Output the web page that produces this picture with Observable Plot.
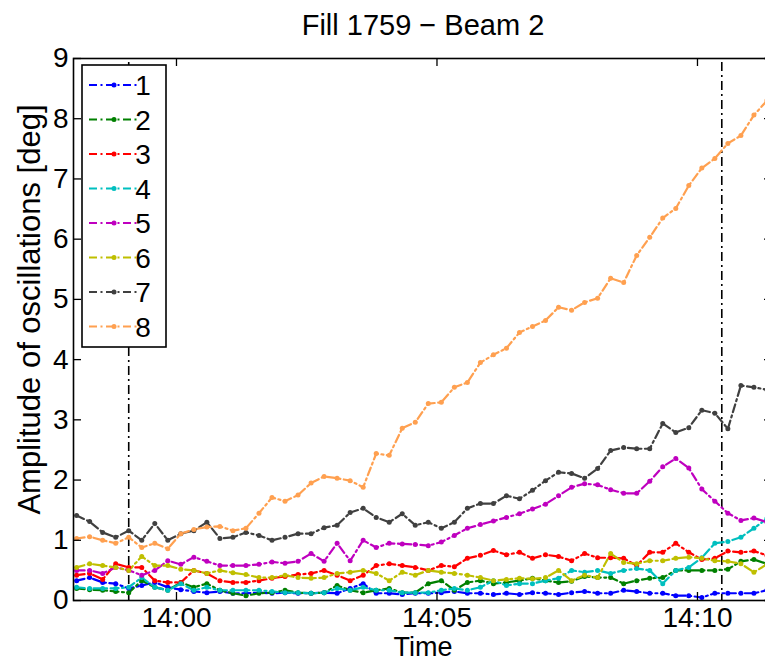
<!DOCTYPE html>
<html><head><meta charset="utf-8">
<script src="https://cdn.jsdelivr.net/npm/d3@7"></script>
<script src="https://cdn.jsdelivr.net/npm/@observablehq/plot@0.6"></script>
<style>
html,body{margin:0;padding:0;background:#fff;overflow:hidden;}
#chart{width:765px;height:662px;overflow:hidden;position:relative;}
#chart svg{max-width:none !important;}
</style></head><body><div id="chart"></div>
<script>
// ---- data ----
const titleText = "Fill 1759 \u2212 Beam 2";
const yLabelText = "Amplitude of oscillations [deg]";
const xLabelText = "Time";
const seriesNames = ["1","2","3","4","5","6","7","8"];
const seriesColors = ["#0000ff","#008000","#ff0000","#00bfbf","#bf00bf","#bfbf00","#404040","#ffa050"];
const dayStr = "2011-05-28";
const firstSample = "13:58:05";
const stepSeconds = 15;
const xTickLabels = ["14:00","14:05","14:10"];
const yTicks = [0,1,2,3,4,5,6,7,8,9];
const markerTimes = ["13:59:05","14:10:28"];
const xStart = "13:58:01.4";
const xEnd = "14:11:26.4";

const s1 = [0.33,0.38,0.30,0.28,0.20,0.25,0.30,0.22,0.18,0.15,0.13,0.15,0.12,0.12,0.13,0.12,0.13,0.12,0.12,0.13,0.12,0.20,0.28,0.12,0.12,0.10,0.12,0.12,0.13,0.15,0.12,0.12,0.10,0.12,0.10,0.13,0.12,0.10,0.13,0.15,0.12,0.12,0.17,0.15,0.12,0.12,0.08,0.08,0.05,0.12,0.12,0.12,0.12,0.17];
const s2 = [0.20,0.18,0.17,0.15,0.13,0.33,0.22,0.17,0.30,0.22,0.28,0.17,0.12,0.08,0.12,0.13,0.17,0.13,0.12,0.13,0.25,0.17,0.13,0.17,0.20,0.13,0.13,0.28,0.33,0.17,0.30,0.33,0.28,0.30,0.33,0.37,0.33,0.30,0.32,0.40,0.38,0.38,0.28,0.33,0.37,0.38,0.50,0.50,0.50,0.50,0.52,0.65,0.68,0.61];
const s3 = [0.42,0.45,0.35,0.61,0.55,0.55,0.33,0.30,0.30,0.50,0.45,0.33,0.30,0.30,0.33,0.37,0.40,0.43,0.45,0.50,0.42,0.33,0.42,0.58,0.61,0.58,0.55,0.50,0.58,0.56,0.70,0.75,0.83,0.76,0.80,0.70,0.76,0.73,0.66,0.78,0.71,0.71,0.70,0.58,0.80,0.80,0.95,0.80,0.68,0.70,0.82,0.80,0.82,0.75];
const s4 = [0.22,0.20,0.20,0.20,0.22,0.38,0.22,0.17,0.28,0.17,0.22,0.17,0.17,0.17,0.17,0.15,0.13,0.13,0.12,0.13,0.20,0.17,0.22,0.17,0.17,0.13,0.13,0.13,0.17,0.20,0.17,0.22,0.33,0.25,0.28,0.28,0.33,0.37,0.50,0.47,0.50,0.45,0.50,0.53,0.50,0.28,0.50,0.55,0.71,0.95,0.98,1.05,1.20,1.36];
const s5 = [0.50,0.50,0.45,0.55,0.50,0.42,0.50,0.66,0.60,0.72,0.65,0.58,0.58,0.58,0.60,0.64,0.62,0.65,0.78,0.65,0.95,0.66,1.00,0.88,0.95,0.94,0.93,0.91,0.97,1.08,1.20,1.26,1.32,1.38,1.44,1.52,1.60,1.74,1.88,1.94,1.92,1.84,1.78,1.78,1.98,2.22,2.36,2.20,1.85,1.65,1.45,1.33,1.37,1.30];
const s6 = [0.55,0.61,0.58,0.55,0.50,0.73,0.58,0.58,0.52,0.50,0.45,0.50,0.46,0.43,0.38,0.38,0.42,0.38,0.37,0.38,0.45,0.47,0.50,0.45,0.33,0.47,0.42,0.50,0.47,0.45,0.42,0.38,0.33,0.35,0.37,0.36,0.38,0.50,0.33,0.42,0.38,0.78,0.63,0.61,0.66,0.66,0.70,0.72,0.70,0.66,0.65,0.61,0.47,0.60];
const s7 = [1.41,1.31,1.13,1.05,1.16,1.00,1.28,1.00,1.11,1.16,1.30,1.03,1.05,1.13,1.08,1.00,1.05,1.11,1.11,1.21,1.25,1.46,1.53,1.38,1.30,1.44,1.25,1.30,1.20,1.30,1.53,1.61,1.61,1.74,1.69,1.83,1.99,2.13,2.11,2.03,2.19,2.49,2.54,2.52,2.52,2.94,2.79,2.87,3.16,3.11,2.85,3.57,3.54,3.50];
const s8 = [1.03,1.06,1.00,0.95,1.05,0.88,0.95,0.86,1.11,1.18,1.22,1.23,1.16,1.20,1.45,1.71,1.65,1.75,1.95,2.06,2.03,1.99,1.88,2.44,2.41,2.86,2.96,3.27,3.29,3.54,3.62,3.95,4.08,4.19,4.45,4.55,4.65,4.87,4.82,4.95,5.02,5.35,5.28,5.73,6.03,6.35,6.51,6.89,7.18,7.34,7.59,7.72,8.06,8.30];
const seriesValues = [s1,s2,s3,s4,s5,s6,s7,s8];

// ---- build table ----
const toDate = (hms) => new Date(`${dayStr}T${hms}Z`);
const t0 = toDate(firstSample).getTime();
const rows = [];
seriesValues.forEach((vals, k) => {
  vals.forEach((v, i) => rows.push({series: seriesNames[k], t: new Date(t0 + i * stepSeconds * 1000), v}));
});
const xTicks = xTickLabels.map(l => toDate(l + ":00"));
const markers = markerTimes.map(toDate);

const W = 772, H = 662, mL = 73, mT = 58, mB = 62;
const frameW = W - mL, frameH = H - mT - mB;
const tick = 8;
const dash = "8,3.5,2,3.5";
const font = "'Liberation Sans', Arial, Helvetica, sans-serif";

const plot = Plot.plot({
  width: W, height: H,
  marginLeft: mL, marginRight: 0, marginTop: mT, marginBottom: mB,
  style: {fontFamily: font, background: "white", color: "black", overflow: "visible", maxWidth: "none"},
  x: {type: "utc", domain: [toDate(xStart), toDate(xEnd)]},
  y: {domain: [0, 9]},
  color: {domain: seriesNames, range: seriesColors},
  marks: [
    Plot.ruleX(markers, {x: d => d, stroke: "black", strokeWidth: 1.6, strokeDasharray: "9,4,2,4", insetTop: 4}),
    Plot.line(rows, {x: "t", y: "v", z: "series", stroke: "series", strokeWidth: 2.2, strokeDasharray: dash, clip: true}),
    Plot.dot(rows, {x: "t", y: "v", fill: "series", r: 2.5, clip: true}),
    Plot.frame({stroke: "black", strokeWidth: 1.6}),
    Plot.tickY(yTicks, {y: d => d, insetRight: frameW - tick, stroke: "black", strokeWidth: 1.3}),
    Plot.tickY(yTicks, {y: d => d, insetLeft: frameW - tick, stroke: "black", strokeWidth: 1.3}),
    Plot.tickX(xTicks, {x: d => d, insetTop: frameH - tick, stroke: "black", strokeWidth: 1.3}),
    Plot.tickX(xTicks, {x: d => d, insetBottom: frameH - tick, stroke: "black", strokeWidth: 1.3}),
    Plot.axisY(yTicks, {tickSize: 0, tickPadding: 5, fontSize: 28, label: null, tickFormat: d => String(d)}),
    Plot.axisX(xTicks, {tickSize: 0, tickPadding: 7, fontSize: 28, label: null, tickFormat: (d, i) => xTickLabels[i]}),
    Plot.text([titleText], {text: d => d, frameAnchor: "top", lineAnchor: "middle", textAnchor: "middle", dy: -33, fontSize: 29}),
    Plot.text([yLabelText], {text: d => d, frameAnchor: "left", lineAnchor: "middle", textAnchor: "middle", rotate: -90, dx: -43, dy: -20, fontSize: 31}),
    Plot.text([xLabelText], {text: d => d, frameAnchor: "bottom", lineAnchor: "middle", textAnchor: "middle", dy: 47, fontSize: 27})
  ]
});
plot.style.maxWidth = "none";
plot.style.height = H + "px";

// ---- legend inside the axes (top-left) ----
const svg = d3.select(plot);
const color = plot.scale("color");
const lg = svg.append("g").attr("class", "legend");
const lx = 82, ly = 65, lw = 84, lh = 282, step = 34.5, first = 85;
lg.append("rect").attr("x", lx).attr("y", ly).attr("width", lw).attr("height", lh)
  .attr("fill", "white").attr("stroke", "black").attr("stroke-width", 1.6);
seriesNames.forEach((name, k) => {
  const y = first + k * step;
  const c = color.apply(name);
  lg.append("line").attr("x1", 89).attr("x2", 140).attr("y1", y).attr("y2", y)
    .attr("stroke", c).attr("stroke-width", 2.2).attr("stroke-dasharray", dash);
  lg.append("circle").attr("cx", 114).attr("cy", y).attr("r", 2.5).attr("fill", c);
  lg.append("text").attr("x", 143).attr("y", y).attr("dy", "0.36em")
    .attr("font-size", 28).attr("font-family", font).attr("fill", "black").text(name);
});

document.getElementById("chart").appendChild(plot);
</script></body></html>
